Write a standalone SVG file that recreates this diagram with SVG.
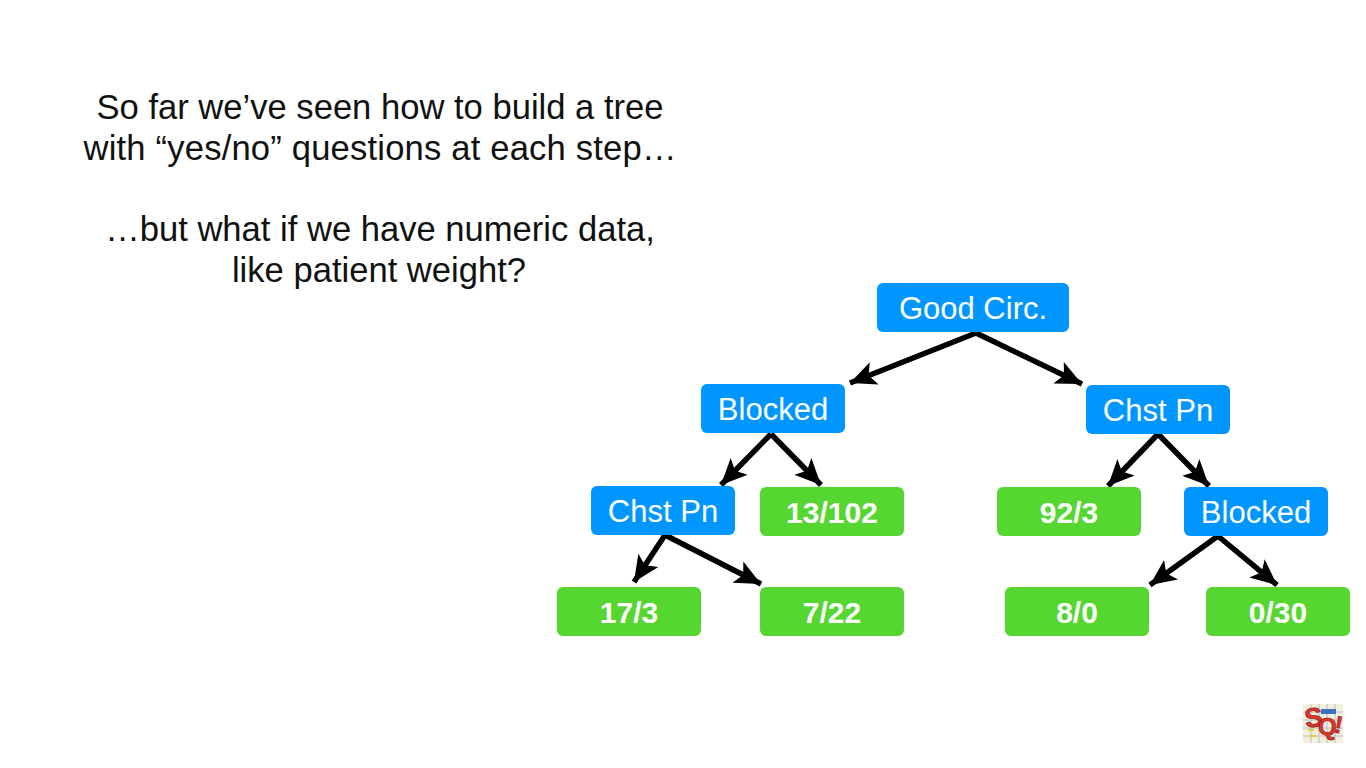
<svg xmlns="http://www.w3.org/2000/svg" width="1366" height="768" viewBox="0 0 1366 768">
<style>
.cap{font-family:"Liberation Sans",Arial,sans-serif;font-size:34.6px;fill:#111;text-anchor:middle}
.lbl{font-family:"Liberation Sans",Arial,sans-serif;font-size:31px;fill:#fff;text-anchor:middle}
.num{font-weight:bold;font-size:30px}
.blue{fill:#0096ff}
.green{fill:#56d631}
.edge{stroke:#000;stroke-width:5.5;fill:none;marker-end:url(#arrow)}
.logo{font-family:"Liberation Sans",Arial,sans-serif;font-weight:bold;fill:#e0352b;stroke:#7a1512;stroke-width:.6}
</style>
<defs>
<marker id="arrow" markerUnits="userSpaceOnUse" markerWidth="30" markerHeight="30" refX="26" refY="13" orient="auto">
<path d="M0 1 L26 13 L0 25 L6 13 Z" fill="#000"/>
</marker>
</defs>
<rect width="1366" height="768" fill="#fff"/>
<g id="caption">
<text class="cap" x="380" y="119">So far we’ve seen how to build a tree</text>
<text class="cap" x="380" y="160" textLength="593">with “yes/no” questions at each step…</text>
<text class="cap" x="380" y="241">…but what if we have numeric data,</text>
<text class="cap" x="379" y="282">like patient weight?</text>
</g>
<g id="connectors">
<path class="edge" d="M976 333 L850 383"/>
<path class="edge" d="M976 333 L1082 384"/>
<path class="edge" d="M771 434 L721 485"/>
<path class="edge" d="M771 434 L821 485"/>
<path class="edge" d="M1158 434 L1108 486"/>
<path class="edge" d="M1158 434 L1209 486"/>
<path class="edge" d="M665 535 L634 582"/>
<path class="edge" d="M665 535 L761 584"/>
<path class="edge" d="M1218 536 L1150 585"/>
<path class="edge" d="M1218 536 L1277 585"/>
</g>
<g id="n-goodcirc"><rect class="blue" x="877" y="283" width="192" height="49" rx="6"/><text class="lbl" x="973" y="319">Good Circ.</text></g>
<g id="n-blocked1"><rect class="blue" x="701" y="384" width="144" height="49" rx="6"/><text class="lbl" x="773" y="420">Blocked</text></g>
<g id="n-chstpn1"><rect class="blue" x="1086" y="385" width="144" height="49" rx="6"/><text class="lbl" x="1158" y="421">Chst Pn</text></g>
<g id="n-chstpn2"><rect class="blue" x="591" y="486" width="144" height="49" rx="6"/><text class="lbl" x="663" y="522">Chst Pn</text></g>
<g id="n-13-102"><rect class="green" x="760" y="487" width="144" height="49" rx="6"/><text class="lbl num" x="832" y="523">13/102</text></g>
<g id="n-92-3"><rect class="green" x="997" y="487" width="144" height="49" rx="6"/><text class="lbl num" x="1069" y="523">92/3</text></g>
<g id="n-blocked2"><rect class="blue" x="1184" y="487" width="144" height="49" rx="6"/><text class="lbl" x="1256" y="523">Blocked</text></g>
<g id="n-17-3"><rect class="green" x="557" y="587" width="144" height="49" rx="6"/><text class="lbl num" x="629" y="623">17/3</text></g>
<g id="n-7-22"><rect class="green" x="760" y="587" width="144" height="49" rx="6"/><text class="lbl num" x="832" y="623">7/22</text></g>
<g id="n-8-0"><rect class="green" x="1005" y="587" width="144" height="49" rx="6"/><text class="lbl num" x="1077" y="623">8/0</text></g>
<g id="n-0-30"><rect class="green" x="1206" y="587" width="144" height="49" rx="6"/><text class="lbl num" x="1278" y="623">0/30</text></g>
<g id="logo">
<rect x="1303" y="704" width="40" height="39" fill="#f3efdf"/>
<path d="M1303 712H1343M1303 720H1343M1303 728H1343M1303 736H1343M1311 704V743M1319 704V743M1327 704V743M1335 704V743" stroke="#b9bcc4" stroke-width="1" fill="none"/>
<rect x="1321" y="709" width="15" height="5" fill="#3b6fc0"/>
<path d="M1308 730h6M1310 736h6" stroke="#e8c83a" stroke-width="2"/>
<text class="logo" x="1305" y="727" font-size="27" transform="rotate(-8 1313 720)">S</text>
<text class="logo" x="1318" y="735" font-size="24">Q</text>
<text class="logo" x="1335" y="733" font-size="24" transform="rotate(10 1338 722)">!</text>
</g>
</svg>
